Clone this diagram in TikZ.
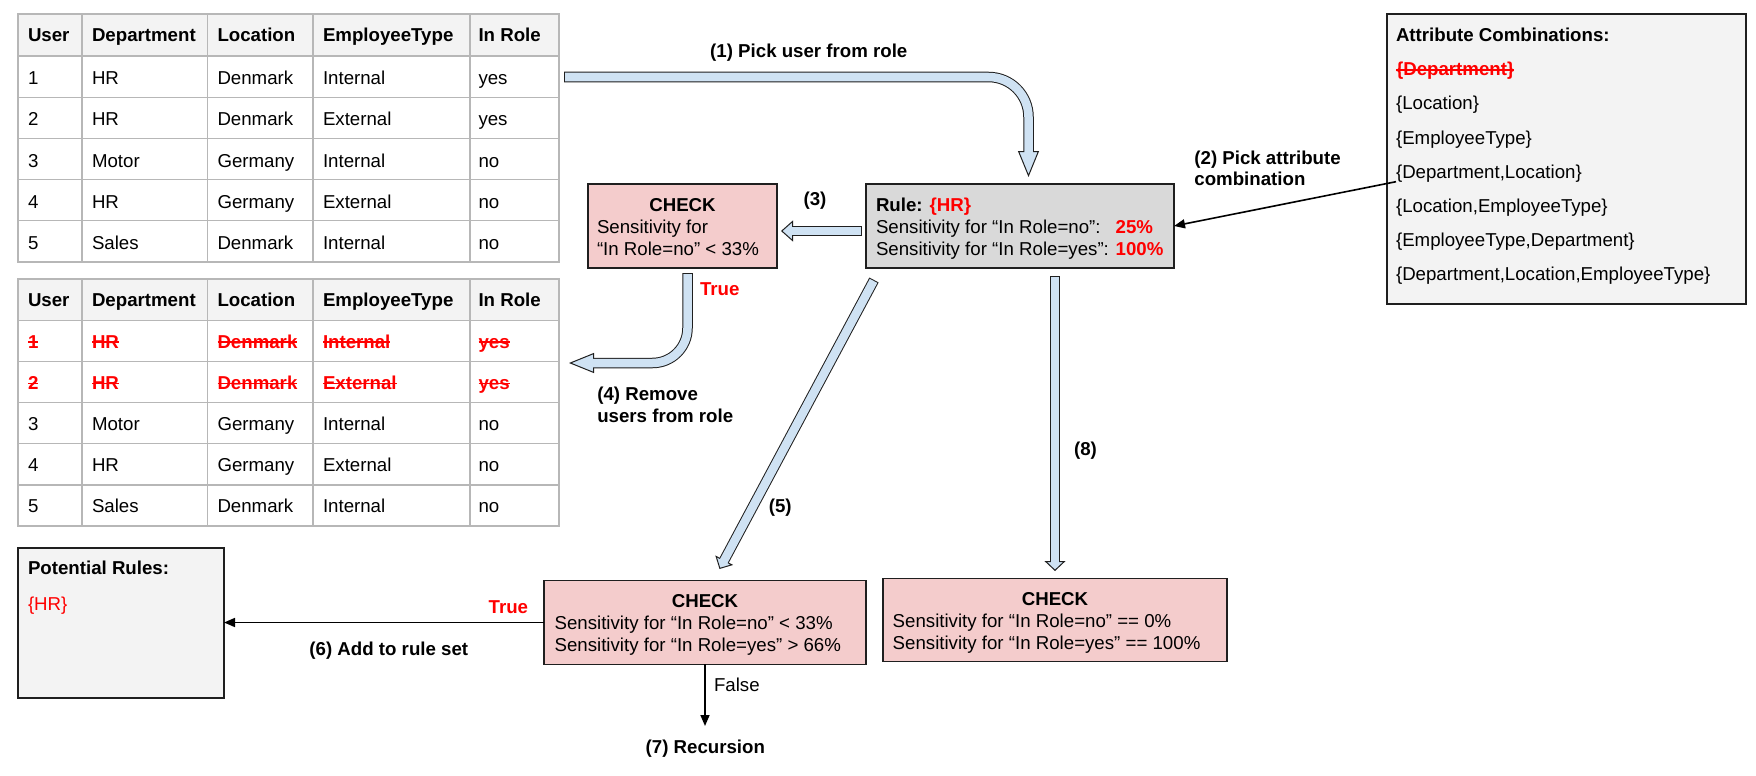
\documentclass[tikz,border=0pt]{standalone}
\usepackage{fontspec}
\setmainfont{Liberation Sans}
\usetikzlibrary{arrows.meta,calc}

\definecolor{gridgray}{HTML}{B7B7B7}
\definecolor{headfill}{HTML}{F3F3F3}
\definecolor{panelfill}{HTML}{F3F3F3}
\definecolor{rulefill}{HTML}{D9D9D9}
\definecolor{checkfill}{HTML}{F4CCCC}
\definecolor{arrfill}{HTML}{CFE2F3}
\definecolor{arrline}{HTML}{1F1F1F}
\definecolor{boxline}{HTML}{1F1F1F}
\definecolor{hot}{HTML}{FF0000}

% red, bold, struck-out entry
\newcommand{\strk}[1]{\textcolor{hot}{\bfseries\setbox0\hbox{#1}%
  \rlap{\rule[5.2pt]{\wd0}{1.5pt}}\box0}}

\begin{document}
\begin{tikzpicture}[x=1pt, y=-1pt,
  execute at begin picture={\fontsize{18.67pt}{21.7pt}\selectfont},
  txt/.style={inner sep=0pt, outer sep=0pt},
  lbl/.style={txt, font=\bfseries},
  panel/.style={draw=boxline, line width=1.3pt, inner sep=0pt, outer sep=0pt, anchor=north west},
  tabframe/.style={draw=gridgray, line width=1.2pt, inner sep=0pt, outer sep=0pt, anchor=north west},
  gridline/.style={draw=gridgray, line width=1.2pt},
  bout/.style 2 args={line width=10.5pt, draw=arrline,
    -{Triangle[length=#1, width=#2, line width=1pt, fill=arrfill]}},
  bin/.style={line width=8.5pt, draw=arrfill, shorten <=1pt, shorten >=#1},
  thinarr/.style={draw=black, line width=1.6pt, -{Triangle[length=11pt, width=9pt]}}
]
\fill[white] (0,0) rectangle (1756,776);
\useasboundingbox (0,0) rectangle (1756,776);

% ---------- user table (before) ----------
\fill[headfill] (18,14) rectangle (559,56);
\foreach \y in {56,97.2,138.4,179.6,220.8} \draw[gridline] (18,\y) -- (559,\y);
\foreach \x in {82,207.5,313,470} \draw[gridline] (\x,14) -- (\x,262);
\node[tabframe, minimum width=541pt, minimum height=248pt] (tabA) at (18,14) {};
\foreach \x/\t [count=\i] in {28/User,92/Department,217.5/Location,323/EmployeeType,478.5/In Role}
  \node[lbl, anchor=base west] (ha-\i) at (\x,41.7) {\t};
\foreach \b/\u/\d/\l/\e/\r [count=\i] in {
    84.6/1/HR/Denmark/Internal/yes,
    125.8/2/HR/Denmark/External/yes,
    167/3/Motor/Germany/Internal/no,
    208.2/4/HR/Germany/External/no,
    249.4/5/Sales/Denmark/Internal/no} {
  \node[txt, anchor=base west] (ra-\i-1) at (28,\b) {\u};
  \node[txt, anchor=base west] (ra-\i-2) at (92,\b) {\d};
  \node[txt, anchor=base west] (ra-\i-3) at (217.5,\b) {\l};
  \node[txt, anchor=base west] (ra-\i-4) at (323,\b) {\e};
  \node[txt, anchor=base west] (ra-\i-5) at (478.5,\b) {\r};
}

% ---------- user table (after) ----------
\fill[headfill] (18,279) rectangle (559,320.5);
\foreach \y in {320.5,361.6,402.7,443.8,484.9} \draw[gridline] (18,\y) -- (559,\y);
\foreach \x in {82,207.5,313,470} \draw[gridline] (\x,279) -- (\x,526);
\node[tabframe, minimum width=541pt, minimum height=247pt] (tabB) at (18,279) {};
\foreach \x/\t [count=\i] in {28/User,92/Department,217.5/Location,323/EmployeeType,478.5/In Role}
  \node[lbl, anchor=base west] (hb-\i) at (\x,306) {\t};
\node[txt, anchor=base west] (rb-1-1) at (28,348) {\strk{1}};
\node[txt, anchor=base west] (rb-1-2) at (92,348) {\strk{HR}};
\node[txt, anchor=base west] (rb-1-3) at (217.5,348) {\strk{Denmark}};
\node[txt, anchor=base west] (rb-1-4) at (323,348) {\strk{Internal}};
\node[txt, anchor=base west] (rb-1-5) at (478.5,348) {\strk{yes}};
\node[txt, anchor=base west] (rb-2-1) at (28,389.2) {\strk{2}};
\node[txt, anchor=base west] (rb-2-2) at (92,389.2) {\strk{HR}};
\node[txt, anchor=base west] (rb-2-3) at (217.5,389.2) {\strk{Denmark}};
\node[txt, anchor=base west] (rb-2-4) at (323,389.2) {\strk{External}};
\node[txt, anchor=base west] (rb-2-5) at (478.5,389.2) {\strk{yes}};
\foreach \b/\u/\d/\l/\e/\r [count=\i from 3] in {
    430.3/3/Motor/Germany/Internal/no,
    471.4/4/HR/Germany/External/no,
    512.5/5/Sales/Denmark/Internal/no} {
  \node[txt, anchor=base west] (rb-\i-1) at (28,\b) {\u};
  \node[txt, anchor=base west] (rb-\i-2) at (92,\b) {\d};
  \node[txt, anchor=base west] (rb-\i-3) at (217.5,\b) {\l};
  \node[txt, anchor=base west] (rb-\i-4) at (323,\b) {\e};
  \node[txt, anchor=base west] (rb-\i-5) at (478.5,\b) {\r};
}

% ---------- boxes ----------
\node[panel, fill=panelfill, minimum width=359pt, minimum height=290pt] (attr) at (1387,14) {};
\node[panel, fill=rulefill, minimum width=308pt, minimum height=84pt] (rule) at (866,184) {};
\node[panel, fill=checkfill, minimum width=189pt, minimum height=84pt] (chkA) at (588,184) {};
\node[panel, fill=checkfill, minimum width=322pt, minimum height=83.6pt] (chkB) at (544,580.7) {};
\node[panel, fill=checkfill, minimum width=344pt, minimum height=83.4pt] (chkC) at (883,578.3) {};
\node[panel, fill=panelfill, minimum width=206pt, minimum height=150pt] (pot) at (18,548) {};

% attribute combinations
\node[lbl, anchor=base west] (at-1) at (1396,41.7) {Attribute Combinations:};
\node[txt, anchor=base west] (at-2) at (1396,75.8) {\strk{\{Department\}}};
\node[txt, anchor=base west] (at-3) at (1396,109.9) {\{Location\}};
\node[txt, anchor=base west] (at-4) at (1396,144) {\{EmployeeType\}};
\node[txt, anchor=base west] (at-5) at (1396,178.1) {\{Department,Location\}};
\node[txt, anchor=base west] (at-6) at (1396,212.2) {\{Location,EmployeeType\}};
\node[txt, anchor=base west] (at-7) at (1396,246.3) {\{EmployeeType,Department\}};
\node[txt, anchor=base west] (at-8) at (1396,280.4) {\{Department,Location,EmployeeType\}};

% rule box
\node[txt, anchor=base west] (rl-1) at (876,211.7) {\textbf{Rule:} \textcolor{hot}{\bfseries\{HR\}}};
\node[txt, anchor=base west] (rl-2) at (876,233.4) {\makebox[239.7pt][l]{Sensitivity for “In Role=no”:}\textcolor{hot}{\bfseries 25\%}};
\node[txt, anchor=base west] (rl-3) at (876,255) {\makebox[239.7pt][l]{Sensitivity for “In Role=yes”:}\textcolor{hot}{\bfseries 100\%}};

% first check
\node[lbl, anchor=base] (ca-1) at (682.5,211.7) {CHECK};
\node[txt, anchor=base west] (ca-2) at (597,233.4) {Sensitivity for};
\node[txt, anchor=base west] (ca-3) at (597,255) {“In Role=no” < 33\%};

% second check
\node[lbl, anchor=base] (cb-1) at (705,607.7) {CHECK};
\node[txt, anchor=base west] (cb-2) at (554.6,629.4) {Sensitivity for “In Role=no” < 33\%};
\node[txt, anchor=base west] (cb-3) at (554.6,651.1) {Sensitivity for “In Role=yes” > 66\%};

% third check
\node[lbl, anchor=base] (cc-1) at (1055,605.3) {CHECK};
\node[txt, anchor=base west] (cc-2) at (892.7,627.3) {Sensitivity for “In Role=no” == 0\%};
\node[txt, anchor=base west] (cc-3) at (892.7,649) {Sensitivity for “In Role=yes” == 100\%};

% potential rules
\node[lbl, anchor=base west] (pr-1) at (28,574.3) {Potential Rules:};
\node[txt, anchor=base west, text=hot] (pr-2) at (28,610) {\{HR\}};

% ---------- block arrows ----------
\coordinate (s1) at ($(tabA.north east)+(5,63)$);
\coordinate (e1) at ($(rule.north)+(8.5,-7)$);
\draw[bout={26pt}{21pt}, rounded corners=40pt] (s1) -| (e1);
\draw[bin=24pt, rounded corners=40pt] (s1) -| (e1);

\coordinate (s3) at ($(rule.west)+(-4,5)$);
\coordinate (e3) at ($(chkA.east)+(4,5)$);
\draw[bout={12pt}{21pt}] (s3) -- (e3);
\draw[bin=10pt] (s3) -- (e3);

\coordinate (s4) at ($(chkA.south)+(5,5)$);
\coordinate (e4) at ($(tabB.north east)+(10,84)$);
\draw[bout={25pt}{20pt}, rounded corners=35pt] (s4) |- (e4);
\draw[bin=23pt, rounded corners=35pt] (s4) |- (e4);

\coordinate (s5) at ($(rule.south west)+(8,12)$);
\coordinate (e5) at ($(chkB.north)+(14.5,-11.7)$);
\draw[bout={10pt}{20pt}] (s5) -- (e5);
\draw[bin=8pt] (s5) -- (e5);

\coordinate (s8) at ($(rule.south)+(35,8)$);
\coordinate (e8) at ($(chkC.north)+(0,-7.3)$);
\draw[bout={10pt}{21pt}] (s8) -- (e8);
\draw[bin=8pt] (s8) -- (e8);

% ---------- thin arrows ----------
\draw[thinarr] ($(at-5.base west)+(0,3.6)$) -- (rule.east);
\draw[thinarr] (chkB.west) -- (chkB.west -| pot.east);
\coordinate (recin) at (705,726);
\draw[thinarr] (chkB.south) -- (recin);

% ---------- labels ----------
\node[lbl, anchor=base] (l1) at (808.8,57.3) {(1) Pick user from role};
\node[lbl, anchor=base west] (l2a) at (1194.4,164) {(2) Pick attribute};
\node[lbl, anchor=base west] (l2b) at (1194.4,185.7) {combination};
\node[lbl, anchor=base] (l3) at (815,205.5) {(3)};
\node[lbl, anchor=base west, text=hot] (t4) at (700,295) {True};
\node[lbl, anchor=base west] (l4a) at (597.3,400.7) {(4) Remove};
\node[lbl, anchor=base west] (l4b) at (597.3,422.4) {users from role};
\node[lbl, anchor=base] (l5) at (780.3,512) {(5)};
\node[lbl, anchor=base] (l8) at (1085.5,455) {(8)};
\node[lbl, anchor=base, text=hot] (t6) at (508.4,613.3) {True};
\node[lbl, anchor=base] (l6) at (388.8,655) {(6) Add to rule set};
\node[txt, anchor=base west] (f7) at (714,691.7) {False};
\node[lbl, anchor=base] (l7) at (705.3,753.3) {(7) Recursion};
\end{tikzpicture}
\end{document}
